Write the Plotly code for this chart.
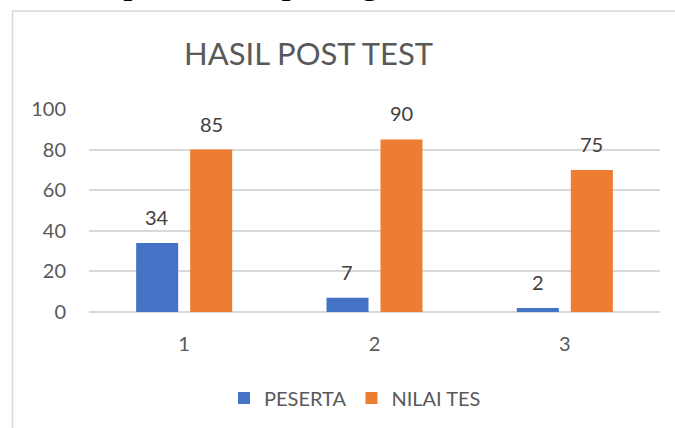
import plotly.graph_objects as go

categories = [1, 2, 3]
tick_labels = ["1", "2", "3"]
peserta = [34, 7, 2]
nilai_tes = [80, 85, 70]
peserta_labels = ["34", "7", "2"]
nilai_labels = ["85", "90", "75"]
y_ticks = [0, 20, 40, 60, 80, 100]

FONT = "Lato"
BLUE = "#4472C4"
ORANGE = "#ED7D31"
GRID = "#D9D9D9"
TXT = "#595959"
LBL = "#404040"

W, H = 675, 428
L, R, T, B = 89, 15, 109, 115
pw = W - L - R
ph = H - T - B

def px_x(px):
    return (px - L) / pw

def px_y(py):
    return (H - B - py) / ph

fig = go.Figure()
fig.add_trace(go.Bar(x=categories, y=peserta, name="PESERTA",
                     marker=dict(color=BLUE, line=dict(width=0))))
fig.add_trace(go.Bar(x=categories, y=nilai_tes, name="NILAI TES",
                     marker=dict(color=ORANGE, line=dict(width=0))))

annotations = []
slot = 0.284
for c, v, t in zip(categories, peserta, peserta_labels):
    annotations.append(dict(x=c - slot / 2, y=v, xref="x", yref="y", text=t,
                            showarrow=False, yanchor="middle", yshift=26,
                            font=dict(family=FONT, size=20, color=LBL)))
for c, v, t in zip(categories, nilai_tes, nilai_labels):
    annotations.append(dict(x=c + slot / 2, y=v, xref="x", yref="y", text=t,
                            showarrow=False, yanchor="middle", yshift=26,
                            font=dict(family=FONT, size=20, color=LBL)))

annotations.append(dict(x=px_x(597), y=px_y(-20), xref="paper", yref="paper",
                        xanchor="right", yanchor="middle", showarrow=False,
                        text="tersebut dapat dilihat pada gambar berikut.",
                        font=dict(family="Liberation Serif", size=37, color="#000000")))

fig.update_layout(
    width=W, height=H,
    margin=dict(l=L, r=R, t=T, b=B, pad=0),
    paper_bgcolor="white", plot_bgcolor="white",
    barmode="group", bargap=0.4325, bargroupgap=0.222,
    title=dict(text="HASIL POST TEST", x=px_x(350), xanchor="center",
               y=1 - 54 / H, yanchor="middle",
               font=dict(family=FONT, size=31, color=TXT)),
    xaxis=dict(range=[0.5, 3.5], tickmode="array", tickvals=categories,
               ticktext=tick_labels, showgrid=False, zeroline=False,
               showline=False, ticks="outside", ticklen=14,
               tickcolor="rgba(0,0,0,0)",
               tickfont=dict(family=FONT, size=20, color=TXT)),
    yaxis=dict(range=[0, 100], tickvals=y_ticks, showgrid=True,
               gridcolor=GRID, gridwidth=1.5, zeroline=True,
               zerolinecolor=GRID, zerolinewidth=1.5, showline=False,
               ticks="outside", ticklen=18, tickcolor="rgba(0,0,0,0)",
               tickfont=dict(family=FONT, size=20, color=TXT)),
    legend=dict(orientation="h", x=px_x(355), xanchor="center",
                y=px_y(398), yanchor="middle",
                font=dict(family=FONT, size=20, color=TXT)),
    annotations=annotations,
    shapes=[dict(type="rect", xref="paper", yref="paper",
                 x0=px_x(12.5), x1=px_x(690), y0=px_y(440), y1=px_y(10.5),
                 line=dict(color=GRID, width=1.5), fillcolor="rgba(0,0,0,0)",
                 layer="below")],
)

fig.write_html("out.html", config={"displayModeBar": False},
               post_script="document.body.style.margin='0';document.body.style.overflow='hidden';")
